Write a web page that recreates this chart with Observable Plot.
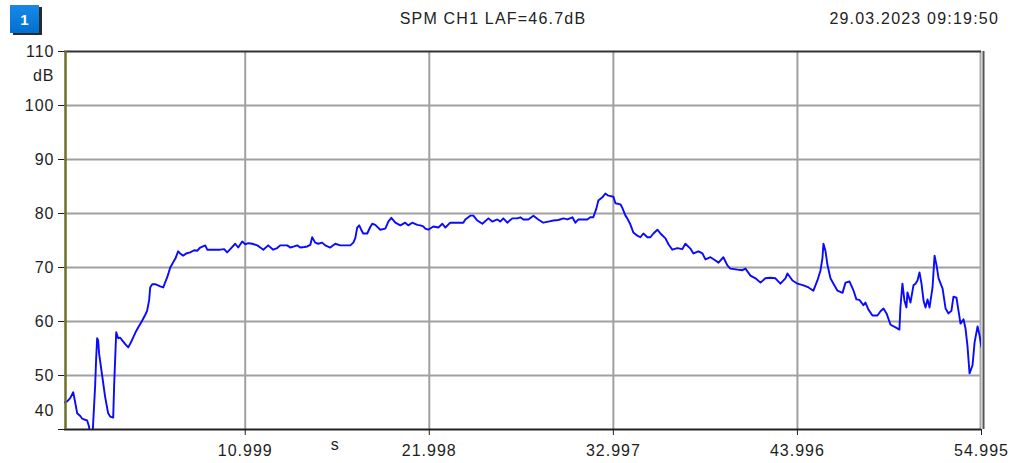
<!DOCTYPE html>
<html><head><meta charset="utf-8">
<script src="https://cdn.jsdelivr.net/npm/d3@7"></script>
<script src="https://cdn.jsdelivr.net/npm/@observablehq/plot@0.6"></script>
<style>
body{margin:0;background:#fff;font-family:"Liberation Sans",Arial,sans-serif;}
#wrap{position:relative;width:1011px;height:463px;overflow:hidden;background:#fff;}
#header{position:relative;height:38px;}
#badge{position:absolute;left:10px;top:5px;width:29px;height:28px;background:linear-gradient(#1a88e8,#0070d0);color:#fff;font-weight:bold;font-size:15px;text-align:center;line-height:30px;box-shadow:3px 2px 0 #2a2a2a;}
#title{position:absolute;left:0;width:986px;top:10px;text-align:center;font-size:16px;line-height:18px;letter-spacing:1.2px;color:#222;}
#date{position:absolute;right:12px;top:10px;font-size:16px;line-height:18px;letter-spacing:1.2px;color:#222;}
</style></head>
<body>
<div id="wrap">
  <div id="header"><div id="badge">1</div><div id="title"></div><div id="date"></div></div>
  <div id="chart"></div>
</div>
<script>
const titleText = "SPM CH1 LAF=46.7dB";
const dateText = "29.03.2023 09:19:50";
const yTicks = [110, 100, 90, 80, 70, 60, 50, 40];
const gridLevels = [100, 90, 80, 70, 60, 50];
const xTicks = [10.999, 21.998, 32.997, 43.996, 54.995];
const gridTimes = [10.999, 21.998, 32.997, 43.996];
const xDomain = [0.2, 54.995];
const yDomain = [40, 110];
const yUnit = "dB";
const xUnit = "s";

const times = [
  0.2,0.36,0.54,0.72,0.84,0.96,1.14,1.26,1.43,1.55,
  1.67,1.73,1.85,1.91,2.03,2.09,2.15,2.21,2.27,2.45,
  2.63,2.81,2.93,3.11,3.17,3.29,3.41,3.53,3.65,3.83,
  4.01,4.18,4.30,4.48,4.60,4.78,4.90,5.02,5.14,5.26,
  5.32,5.44,5.62,5.92,6.10,6.22,6.34,6.52,6.70,6.82,
  6.99,7.11,7.29,7.47,7.71,7.95,8.13,8.31,8.61,8.73,
  9.09,9.50,9.74,9.92,10.16,10.40,10.58,10.82,11.00,11.18,
  11.42,11.72,11.90,12.08,12.37,12.67,12.91,13.09,13.51,13.69,
  13.93,14.11,14.29,14.53,14.71,14.89,15.00,15.18,15.36,15.60,
  15.78,16.08,16.38,16.68,16.98,17.28,17.46,17.58,17.69,17.81,
  17.93,18.05,18.29,18.47,18.59,18.77,19.07,19.37,19.55,19.73,
  19.97,20.27,20.56,20.74,20.98,21.28,21.46,21.64,21.76,21.94,
  22.24,22.54,22.78,22.96,23.25,23.61,24.03,24.15,24.45,24.63,
  24.87,25.17,25.53,25.76,26.06,26.24,26.42,26.66,26.96,27.26,
  27.44,27.62,27.92,28.22,28.51,28.81,29.11,29.41,29.71,30.01,
  30.25,30.55,30.73,30.91,31.21,31.44,31.62,31.80,31.98,32.10,
  32.34,32.52,32.70,33.00,33.12,33.42,33.54,33.72,33.83,34.01,
  34.19,34.43,34.61,34.79,35.03,35.21,35.39,35.63,35.81,36.11,
  36.29,36.52,36.82,37.12,37.30,37.60,37.78,38.08,38.32,38.50,
  38.80,39.10,39.28,39.57,39.81,39.99,40.41,40.71,40.89,41.19,
  41.49,41.79,42.08,42.38,42.68,42.98,43.28,43.40,43.70,44.00,
  44.36,44.66,44.95,45.19,45.37,45.49,45.55,45.67,45.79,45.97,
  46.15,46.39,46.69,46.87,47.11,47.35,47.52,47.70,47.94,48.06,
  48.24,48.48,48.78,48.96,49.14,49.32,49.56,49.86,50.09,50.15,
  50.27,50.39,50.51,50.57,50.75,50.93,51.05,51.17,51.29,51.41,
  51.53,51.65,51.77,51.89,52.07,52.19,52.31,52.43,52.67,52.85,
  53.02,53.20,53.32,53.50,53.62,53.74,53.92,54.04,54.16,54.28,
  54.46,54.58,54.76,54.88,54.995
];
const levels = [
  45.0,45.2,45.8,46.9,45.0,43.0,42.5,42.0,41.8,41.7,
  40.5,38.0,37.5,41.0,48.0,53.0,56.9,56.5,54.0,50.0,
  46.0,43.0,42.4,42.2,48.5,58.0,56.9,57.0,56.5,55.8,
  55.2,56.2,57.0,58.2,58.9,59.8,60.5,61.2,62.0,64.0,
  66.3,66.9,66.9,66.5,66.3,67.3,68.2,70.0,71.0,71.6,
  73.0,72.6,72.2,72.6,72.8,73.2,73.1,73.7,74.1,73.3,
  73.3,73.3,73.4,72.8,73.6,74.4,73.7,74.8,74.3,74.5,
  74.4,74.1,73.7,73.3,74.1,73.3,73.6,74.1,74.1,73.7,
  73.9,74.1,73.7,73.8,73.9,74.2,75.6,74.6,74.4,74.6,
  74.1,73.7,74.4,74.1,74.1,74.1,74.6,75.5,77.4,77.8,
  77.0,76.3,76.3,77.5,78.1,77.9,77.0,77.2,78.5,79.2,
  78.3,77.8,78.3,77.8,78.3,77.9,77.8,77.6,77.2,77.0,
  77.6,77.4,78.1,77.4,78.3,78.3,78.3,78.9,79.6,79.6,
  78.7,78.1,79.1,78.5,78.9,78.5,79.1,78.3,79.1,79.1,
  79.3,78.9,78.9,79.6,78.9,78.3,78.5,78.7,78.8,79.1,
  78.9,79.3,78.3,78.9,78.9,78.9,79.3,79.3,80.9,82.4,
  83.0,83.7,83.3,83.1,81.9,81.7,81.0,79.6,79.1,78.0,
  76.5,75.9,75.6,76.3,75.6,75.6,76.3,77.0,76.3,75.4,
  74.3,73.3,73.6,73.4,74.4,73.5,72.6,73.0,72.6,71.5,
  71.9,71.3,70.9,71.9,70.4,69.8,69.6,69.5,69.8,68.5,
  68.0,67.2,68.0,68.1,68.0,67.0,68.0,68.9,67.6,67.0,
  66.7,66.3,65.7,67.6,69.4,71.7,74.4,73.1,70.5,68.0,
  67.0,65.7,65.3,67.2,67.4,65.7,64.1,64.0,63.0,63.5,
  62.2,61.1,61.1,61.9,62.4,61.5,59.4,58.9,58.5,62.6,
  67.0,63.9,62.6,65.4,63.5,66.7,67.0,67.6,69.1,67.0,
  63.9,62.6,64.1,62.6,66.3,72.2,70.4,68.0,66.1,62.4,
  61.5,62.0,64.6,64.4,62.0,59.6,60.4,58.7,55.4,50.4,
  51.9,56.1,59.1,57.4,55.2
];

document.getElementById("title").textContent = titleText;
document.getElementById("date").textContent = dateText;

const n = Math.min(times.length, levels.length);
const data = d3.range(n).map(i => ({t: times[i], v: levels[i]}));

const chart = Plot.plot({
  width: 1011,
  height: 425,
  marginTop: 13,
  marginLeft: 64,
  marginRight: 30,
  marginBottom: 34,
  x: {domain: xDomain},
  y: {domain: yDomain},
  style: {fontFamily: "'Liberation Sans', Arial, sans-serif", fontSize: "16px", color: "#1e1e1e", background: "#fff", overflow: "visible", letterSpacing: "1px"},
  marks: [
    Plot.ruleY(gridLevels, {stroke: "#a0a0a0", strokeWidth: 2}),
    Plot.ruleX(gridTimes, {stroke: "#a0a0a0", strokeWidth: 2}),
    Plot.ruleX([xDomain[1]], {stroke: "#a8a8a8", strokeWidth: 2, dx: -1}),
    Plot.ruleX([xDomain[1]], {stroke: "#555", strokeWidth: 2, dx: 2}),
    Plot.line(data, {x: "t", y: "v", stroke: "#0a0aff", strokeWidth: 1.9, clip: true}),
    Plot.ruleY([yDomain[1]], {stroke: "#333", strokeWidth: 2}),
    Plot.ruleY([yDomain[0]], {stroke: "#222", strokeWidth: 2}),
    Plot.ruleX([xDomain[0]], {stroke: "#6f6f28", strokeWidth: 2.5, dx: 1}),
    Plot.axisY({ticks: yTicks, tickFormat: d => d === 40 ? "" : String(d), tickSize: 6, tickPadding: 4, label: null, fontSize: 16}),
    Plot.axisX({ticks: xTicks, tickFormat: d => d.toFixed(3), tickSize: 6, tickPadding: 9, label: null, fontSize: 16}),
    Plot.text(["40"], {text: d => d, frameAnchor: "bottom-left", dx: -10, dy: -14, textAnchor: "end", fontSize: 16}),
    Plot.text([yUnit], {text: d => d, y: () => 105.5, frameAnchor: "left", dx: -10, textAnchor: "end", fontSize: 16}),
    Plot.text([xUnit], {text: d => d, x: () => 16.38, frameAnchor: "bottom", dy: 20, fontSize: 16})
  ]
});
document.getElementById("chart").appendChild(chart);
</script>
</body></html>
